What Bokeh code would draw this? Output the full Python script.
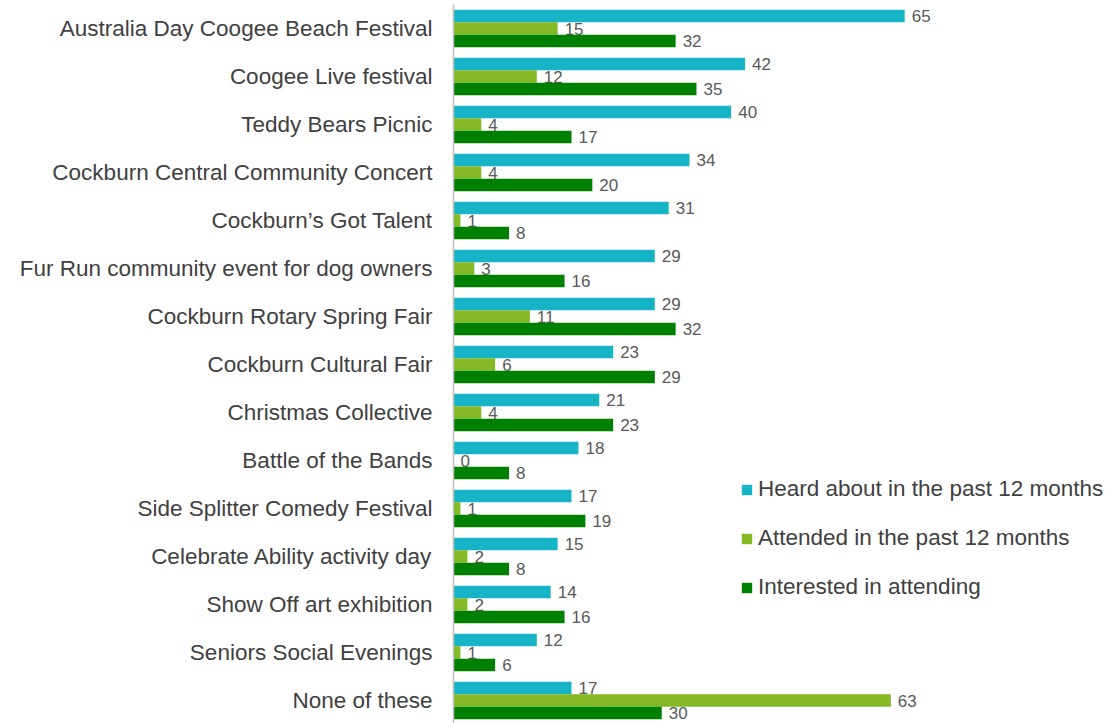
from bokeh.plotting import figure
from bokeh.models import ColumnDataSource, Range1d, FixedTicker, Legend, LegendItem
from bokeh.transform import dodge
from bokeh.core.properties import value
from bokeh.embed import file_html
from bokeh.resources import INLINE

categories = [
    "Australia Day Coogee Beach Festival",
    "Coogee Live festival",
    "Teddy Bears Picnic",
    "Cockburn Central Community Concert",
    "Cockburn\u2019s Got Talent",
    "Fur Run community event for dog owners",
    "Cockburn Rotary Spring Fair",
    "Cockburn Cultural Fair",
    "Christmas Collective",
    "Battle of the Bands",
    "Side Splitter Comedy Festival",
    "Celebrate Ability activity day",
    "Show Off art exhibition",
    "Seniors Social Evenings",
    "None of these",
]
heard = [65, 42, 40, 34, 31, 29, 29, 23, 21, 18, 17, 15, 14, 12, 17]
attended = [15, 12, 4, 4, 1, 3, 11, 6, 4, 0, 1, 2, 2, 1, 63]
interested = [32, 35, 17, 20, 8, 16, 32, 29, 23, 8, 19, 8, 16, 6, 30]
series_names = ["Heard about in the past 12 months", "Attended in the past 12 months", "Interested in attending"]
colors = ["#17B4C8", "#83B925", "#008000"]

pos = list(range(len(categories)))
src = ColumnDataSource(dict(y=pos, heard=heard, attended=attended, interested=interested,
                            heard_t=[str(v) for v in heard],
                            attended_t=[str(v) for v in attended],
                            interested_t=[str(v) for v in interested]))

FONT = "Liberation Sans"
p = figure(width=1109, height=723, output_backend="svg", toolbar_location=None,
           x_range=Range1d(0, 94.5), y_range=Range1d(14.479, -0.5),
           min_border_left=453, min_border_right=0, min_border_top=4, min_border_bottom=0)
p.outline_line_color = None
p.grid.visible = False
p.xaxis.visible = False

bh = 0.262
offsets = [-bh, 0.0, bh]
fields = ["heard", "attended", "interested"]
renderers = []
for f, off, c in zip(fields, offsets, colors):
    r = p.hbar(y=dodge("y", off), right=f, left=0, height=bh, source=src,
               fill_color=c, line_color=None)
    renderers.append(r)
    p.text(x=f, y=dodge("y", off), text=f + "_t", source=src, x_offset=7,
           text_baseline="middle", text_align="left", text_color="#595959",
           text_font=value(FONT), text_font_size="17px")

yax = p.yaxis[0]
yax.ticker = FixedTicker(ticks=pos)
yax.major_label_overrides = {i: c for i, c in enumerate(categories)}
yax.major_tick_out = 0
yax.major_tick_in = 0
yax.minor_tick_out = 0
yax.minor_tick_in = 0
yax.major_label_standoff = 21
yax.major_label_text_font = FONT
yax.major_label_text_font_size = "22.5px"
yax.major_label_text_color = "#404040"
yax.axis_line_color = "#BFBFBF"
yax.axis_line_width = 1.5

legend = Legend(items=[LegendItem(label=n, renderers=[r]) for n, r in zip(series_names, renderers)],
                location=(287, 123), padding=0, margin=0, border_line_color=None,
                background_fill_alpha=0, glyph_width=13, glyph_height=13,
                label_standoff=5, label_height=26, spacing=23,
                label_text_font=FONT, label_text_font_size="22.5px",
                label_text_color="#404040")
p.add_layout(legend, "center")

open("out.html", "w").write(file_html(p, INLINE))
